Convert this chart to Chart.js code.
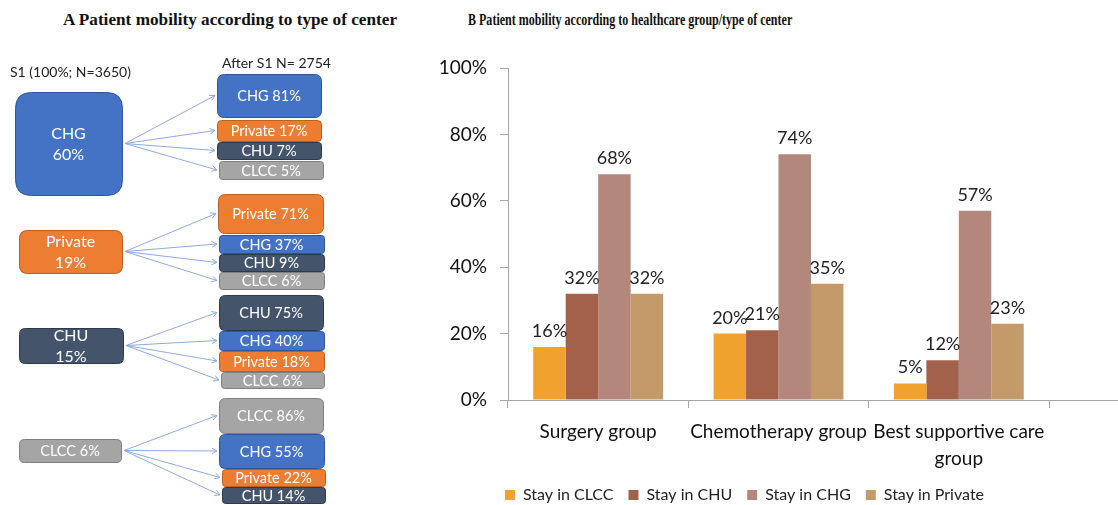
<!DOCTYPE html>
<html>
<head>
<meta charset="utf-8">
<script src="https://cdn.jsdelivr.net/npm/chart.js@4.4.1/dist/chart.umd.min.js"></script>
<style>
  html, body { margin: 0; padding: 0; background: #fff; }
  body { width: 1118px; height: 505px; position: relative; overflow: hidden; }
  .title { position: absolute; top: 10px; white-space: nowrap; display: inline-block;
           font-family: "Liberation Serif", serif; font-weight: bold; color: #111;
           transform-origin: left center; }
  #titleA { left: 63px; font-size: 17px; }
  #titleB { left: 468px; font-size: 17px; top: 10px; }
  #flowChart { position: absolute; left: 0; top: 0; }
  #barChart { position: absolute; left: 420px; top: 36px; }
</style>
</head>
<body>
<div class="title" id="titleA">A Patient mobility according to type of center</div>
<div class="title" id="titleB">B Patient mobility according to healthcare group/type of center</div>
<canvas id="flowChart" width="420" height="505"></canvas>
<canvas id="barChart" width="698" height="487"></canvas>
<script>
// panel A data
const originNames = ['CHG', 'Private', 'CHU', 'CLCC'];
const originShares = [60, 19, 15, 6];
const destNames = [
    ['CHG', 'Private', 'CHU', 'CLCC'],
    ['Private', 'CHG', 'CHU', 'CLCC'],
    ['CHU', 'CHG', 'Private', 'CLCC'],
    ['CLCC', 'CHG', 'Private', 'CHU']
];
const destShares = [
    [81, 17, 7, 5],
    [71, 37, 9, 6],
    [75, 40, 18, 6],
    [86, 55, 22, 14]
];
const startLabel = 'S1 (100%; N=3650)';
const afterLabel = 'After S1 N= 2754';

// panel B data
const groups = ['Surgery group', 'Chemotherapy group', ['Best supportive care', 'group']];
const seriesNames = ['Stay in CLCC', 'Stay in CHU', 'Stay in CHG', 'Stay in Private'];
const stayCLCC = [16, 20, 5];
const stayCHU = [32, 21, 12];
const stayCHG = [68, 74, 57];
const stayPrivate = [32, 35, 23];
const yTicks = [0, 20, 40, 60, 80, 100];

// styles / layout
const centerColors = {
    CHG: ['#4472C4', '#2F5597'],
    Private: ['#ED7D31', '#B85F22'],
    CHU: ['#44546A', '#2E3A4B'],
    CLCC: ['#A5A5A5', '#7F7F7F']
};
// x, y, w, h, radius
const originBoxes = [[15, 92, 107, 103, 16], [19, 230, 103, 43, 8], [19, 328, 104, 35, 6], [19, 439, 102, 23, 5]];
const destBoxes = [
    [[217, 74, 104, 43, 7], [217, 120, 104, 21, 4], [217, 142, 104, 17, 3], [219, 161, 104, 18, 3]],
    [[218, 194, 105, 39, 7], [219, 235, 105, 18, 3], [219, 254, 105, 17, 3], [219, 272, 105, 17, 3]],
    [[219, 295, 104, 35, 6], [219, 331, 105, 19, 3], [219, 351, 105, 20, 3], [221, 372, 103, 16, 3]],
    [[219, 398, 104, 35, 6], [219, 434, 105, 34, 6], [222, 469, 103, 17, 3], [222, 487, 103, 16, 3]]
];
const barColors = ['#F0A22E', '#A3614B', '#B3877B', '#C49A6B'];
const axisColor = '#A6A6A6';

function fitTitle(id, w) {
    const el = document.getElementById(id);
    el.style.transform = 'scaleX(' + (w / el.offsetWidth) + ')';
}
fitTitle('titleA', 334);
fitTitle('titleB', 324);

function roundRectPath(ctx, x, y, w, h, r) {
    ctx.beginPath();
    ctx.moveTo(x + r, y);
    ctx.lineTo(x + w - r, y);
    ctx.quadraticCurveTo(x + w, y, x + w, y + r);
    ctx.lineTo(x + w, y + h - r);
    ctx.quadraticCurveTo(x + w, y + h, x + w - r, y + h);
    ctx.lineTo(x + r, y + h);
    ctx.quadraticCurveTo(x, y + h, x, y + h - r);
    ctx.lineTo(x, y + r);
    ctx.quadraticCurveTo(x, y, x + r, y);
    ctx.closePath();
}

const flowPlugin = {
    id: 'flow',
    afterDraw(chart) {
        const ctx = chart.ctx;
        const sx = chart.scales.x, sy = chart.scales.y;
        const X = v => sx.getPixelForValue(v);
        const Y = v => sy.getPixelForValue(v);

        function box(b, name) {
            const x = X(b[0]), y = Y(b[1]);
            const w = X(b[0] + b[2]) - x, h = Y(b[1] + b[3]) - y;
            roundRectPath(ctx, x + 0.5, y + 0.5, w, h, b[4]);
            ctx.fillStyle = centerColors[name][0];
            ctx.fill();
            ctx.lineWidth = 1;
            ctx.strokeStyle = centerColors[name][1];
            ctx.stroke();
            return { x, y, w, h };
        }

        ctx.save();
        ctx.font = '14px Lato';
        ctx.fillStyle = '#222';
        ctx.textBaseline = 'middle';
        ctx.textAlign = 'left';
        ctx.fillText(startLabel, X(10), Y(72));
        ctx.fillText(afterLabel, X(222), Y(63));

        originNames.forEach((name, i) => {
            const o = box(originBoxes[i], name);
            ctx.fillStyle = '#fff';
            ctx.textAlign = 'center';
            const cx = o.x + o.w / 2, cy = o.y + o.h / 2;
            if (o.h > 30) {
                ctx.font = '16px Lato';
                ctx.fillText(name, cx, cy - 10);
                ctx.fillText(originShares[i] + '%', cx, cy + 11);
            } else {
                ctx.font = '14.5px Lato';
                ctx.fillText(name + ' ' + originShares[i] + '%', cx, cy + 1);
            }

            const fromX = o.x + o.w + 3, fromY = cy;
            destNames[i].forEach((dn, j) => {
                const d = box(destBoxes[i][j], dn);
                ctx.fillStyle = '#fff';
                ctx.font = '14.5px Lato';
                ctx.fillText(dn + ' ' + destShares[i][j] + '%', d.x + d.w / 2, d.y + d.h / 2 + 1);

                // connector
                const tx = d.x - 2, ty = d.y + d.h / 2;
                const ang = Math.atan2(ty - fromY, tx - fromX);
                ctx.strokeStyle = '#8FAADC';
                ctx.lineWidth = 1;
                ctx.beginPath();
                ctx.moveTo(fromX, fromY);
                ctx.lineTo(tx, ty);
                ctx.moveTo(tx - 6 * Math.cos(ang - 0.5), ty - 6 * Math.sin(ang - 0.5));
                ctx.lineTo(tx, ty);
                ctx.lineTo(tx - 6 * Math.cos(ang + 0.5), ty - 6 * Math.sin(ang + 0.5));
                ctx.stroke();
            });
        });
        ctx.restore();
    }
};

new Chart(document.getElementById('flowChart'), {
    type: 'scatter',
    data: { datasets: [] },
    options: {
        responsive: false,
        animation: false,
        events: [],
        layout: { padding: 0 },
        plugins: { legend: { display: false }, tooltip: { enabled: false } },
        scales: {
            x: { type: 'linear', display: false, min: 0, max: 420 },
            y: { type: 'linear', display: false, min: 0, max: 505, reverse: true }
        }
    },
    plugins: [flowPlugin]
});

// value labels above bars + x axis line continued to the edge
const barLabels = {
    id: 'barLabels',
    afterLayout(chart) {
        // pull the legend up under the two-line category label
        const lg = chart.legend;
        lg.top -= 7; lg.bottom -= 7;
        lg.left += 10; lg.right += 10;
    },
    afterDatasetsDraw(chart) {
        const ctx = chart.ctx;
        ctx.save();
        ctx.font = '18px Lato';
        ctx.fillStyle = '#222';
        ctx.textAlign = 'center';
        ctx.textBaseline = 'alphabetic';
        chart.data.datasets.forEach((ds, i) => {
            chart.getDatasetMeta(i).data.forEach((bar, j) => {
                ctx.fillText(ds.data[j] + '%', bar.x, bar.y - 10);
            });
        });
        const a = chart.chartArea;
        ctx.strokeStyle = axisColor;
        ctx.lineWidth = 1;
        ctx.beginPath();
        ctx.moveTo(a.right, Math.round(a.bottom) + 0.5);
        ctx.lineTo(chart.width, Math.round(a.bottom) + 0.5);
        ctx.stroke();
        ctx.restore();
    }
};

const seriesData = [stayCLCC, stayCHU, stayCHG, stayPrivate];

new Chart(document.getElementById('barChart'), {
    type: 'bar',
    data: {
        labels: groups,
        datasets: seriesNames.map((name, i) => ({
            label: name,
            data: seriesData[i],
            backgroundColor: barColors[i],
            categoryPercentage: 0.72,
            barPercentage: 1.0
        }))
    },
    options: {
        responsive: false,
        animation: false,
        events: [],
        layout: { padding: { top: 32, right: 69, bottom: 3, left: 0 } },
        plugins: {
            tooltip: { enabled: false },
            legend: {
                position: 'bottom',
                labels: {
                    font: { family: 'Lato', size: 16 },
                    color: '#222',
                    boxWidth: 10,
                    boxHeight: 10,
                    padding: 15
                }
            }
        },
        scales: {
            x: {
                grid: {
                    drawOnChartArea: false,
                    tickLength: 8,
                    color: ctx => (ctx.index === groups.length ? 'rgba(0,0,0,0)' : axisColor)
                },
                border: { color: axisColor },
                ticks: { font: { family: 'Lato', size: 19, lineHeight: 1.4 }, color: '#111', padding: 11, maxRotation: 0 },
                afterFit(scale) { scale.height = 79; }
            },
            y: {
                min: 0,
                max: 100,
                afterBuildTicks(scale) { scale.ticks = yTicks.map(v => ({ value: v })); },
                grid: { drawOnChartArea: false, color: axisColor, tickLength: 8 },
                border: { color: axisColor },
                ticks: { font: { family: 'Lato', size: 19 }, color: '#111', padding: 13,
                         callback: v => v + '%' },
                afterFit(scale) { scale.width = 88; }
            }
        }
    },
    plugins: [barLabels]
});
</script>
</body>
</html>
